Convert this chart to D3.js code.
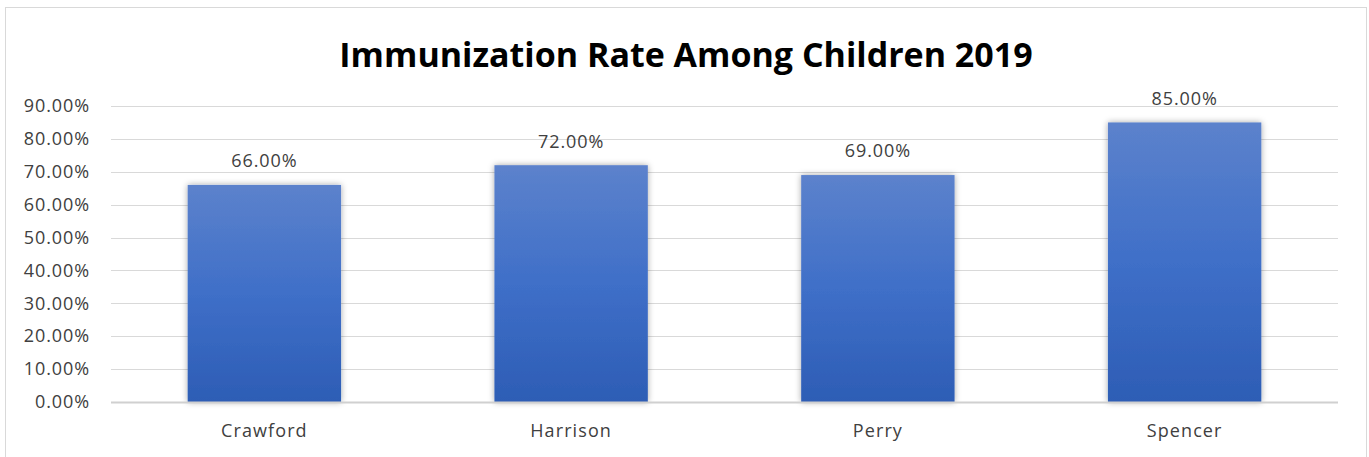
<!DOCTYPE html>
<html><head><meta charset="utf-8">
<script src="https://cdn.jsdelivr.net/npm/d3@7"></script>
<style>body{margin:0;background:#fff}svg{display:block}</style>
</head><body>
<svg id="c" width="1369" height="457"></svg>
<script>
const categories = ["Crawford", "Harrison", "Perry", "Spencer"];
const values = [0.66, 0.72, 0.69, 0.85];
const yTicks = [0, 0.1, 0.2, 0.3, 0.4, 0.5, 0.6, 0.7, 0.8, 0.9];
const title = "Immunization Rate Among Children 2019";

const svg = d3.select("#c");
const font = "'Open Sans', 'Noto Sans', sans-serif";
const L = 111, R = 1338, T = 106, B = 402;
const fs = 18, ls = 0.9;

svg.append("rect").attr("x", 5.5).attr("y", 7.5).attr("width", 1361).attr("height", 460)
  .attr("fill", "#fff").attr("stroke", "#d9d9d9").attr("stroke-width", 1);

const defs = svg.append("defs");
const g = defs.append("linearGradient").attr("id", "bg").attr("x1", 0).attr("y1", 0).attr("x2", 0).attr("y2", 1);
g.append("stop").attr("offset", "0%").attr("stop-color", "#5c82cc");
g.append("stop").attr("offset", "50%").attr("stop-color", "#3f6fc8");
g.append("stop").attr("offset", "100%").attr("stop-color", "#2d5db5");
const f = defs.append("filter").attr("id", "sh").attr("x", "-10%").attr("y", "-10%").attr("width", "120%").attr("height", "120%");
f.append("feDropShadow").attr("dx", 0).attr("dy", 0).attr("stdDeviation", 3).attr("flood-color", "#000").attr("flood-opacity", 0.35);

const x = d3.scaleBand().domain(categories).range([L, R]).paddingInner(0.5).paddingOuter(0.25);
const y = d3.scaleLinear().domain([0, 0.9]).range([B, T]);

// gridlines
svg.append("g").selectAll("line").data(yTicks.filter(d => d > 0)).join("line")
  .attr("x1", L).attr("x2", R).attr("y1", d => Math.round(y(d)) + 0.5).attr("y2", d => Math.round(y(d)) + 0.5)
  .attr("stroke", "#d9d9d9").attr("stroke-width", 1);

// y axis labels
const yAxis = d3.axisLeft(y).tickValues(yTicks).tickFormat(d => (d * 100).toFixed(2) + "%").tickSize(0).tickPadding(0);
const ya = svg.append("g").attr("transform", `translate(90,0)`).call(yAxis);
ya.select(".domain").remove();
ya.selectAll("text").attr("font-family", font).attr("font-size", fs).attr("letter-spacing", ls).attr("fill", "#404040");

// bars
svg.append("g").selectAll("rect").data(values).join("rect")
  .attr("x", (d, i) => x(categories[i])).attr("width", x.bandwidth())
  .attr("y", d => y(d)).attr("height", d => B - y(d))
  .attr("fill", "url(#bg)").attr("filter", "url(#sh)");

// baseline axis
svg.append("line").attr("x1", L).attr("x2", R).attr("y1", B + 0.5).attr("y2", B + 0.5)
  .attr("stroke", "#d0d0d0").attr("stroke-width", 2);

// x axis labels
const xAxis = d3.axisBottom(x).tickSize(0).tickPadding(0);
const xa = svg.append("g").attr("transform", `translate(0,${B + 29})`).call(xAxis);
xa.select(".domain").remove();
xa.selectAll("text").attr("dy", "0.35em").attr("font-family", font).attr("font-size", fs)
  .attr("letter-spacing", 1.1).attr("fill", "#404040");

// data labels
svg.append("g").selectAll("text").data(values).join("text")
  .attr("x", (d, i) => x(categories[i]) + x.bandwidth() / 2).attr("y", d => y(d) - 24)
  .attr("dy", "0.35em").attr("text-anchor", "middle")
  .attr("font-family", font).attr("font-size", fs).attr("letter-spacing", ls).attr("fill", "#404040")
  .text(d => (d * 100).toFixed(2) + "%");

svg.append("text").attr("x", 686).attr("y", 67).attr("text-anchor", "middle")
  .attr("font-family", font).attr("font-weight", "bold").attr("font-size", 34).attr("fill", "#000")
  .text(title);
</script>
</body></html>
